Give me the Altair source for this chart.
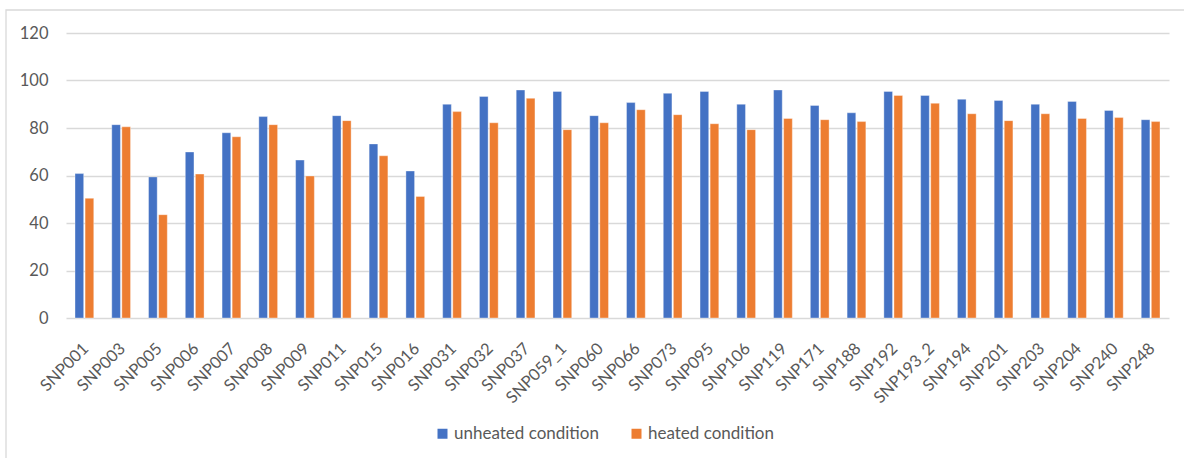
import altair as alt
import pandas as pd

# SNP markers and the percentage measured for each under both conditions
snps = [
    "SNP001", "SNP003", "SNP005", "SNP006", "SNP007", "SNP008", "SNP009",
    "SNP011", "SNP015", "SNP016", "SNP031", "SNP032", "SNP037", "SNP059_1",
    "SNP060", "SNP066", "SNP073", "SNP095", "SNP106", "SNP119", "SNP171",
    "SNP188", "SNP192", "SNP193_2", "SNP194", "SNP201", "SNP203", "SNP204",
    "SNP240", "SNP248",
]
unheated = [
    60.8, 81.4, 59.4, 69.9, 78.0, 84.8, 66.5, 85.2, 73.3, 61.9, 90.0, 93.3,
    96.0, 95.4, 85.2, 90.7, 94.6, 95.4, 90.0, 96.0, 89.5, 86.4, 95.4, 93.7,
    92.1, 91.6, 90.0, 91.2, 87.4, 83.5,
]
heated = [
    50.4, 80.5, 43.5, 60.6, 76.3, 81.4, 59.8, 83.1, 68.3, 51.2, 86.9, 82.2,
    92.5, 79.3, 82.2, 87.7, 85.6, 81.8, 79.3, 84.0, 83.5, 82.7, 93.7, 90.4,
    86.0, 83.1, 86.0, 84.0, 84.4, 82.7,
]
series = ["unheated condition", "heated condition"]
colors = ["#4472C4", "#ED7D31"]
y_ticks = [0, 20, 40, 60, 80, 100, 120]

rows = []
for snp, u, h in zip(snps, unheated, heated):
    rows.append({"snp": snp, "condition": series[0], "value": u})
    rows.append({"snp": snp, "condition": series[1], "value": h})
df = pd.DataFrame(rows)

FONT = "Lato"
TEXT = "#595959"
GRID = "#D9D9D9"

bars = alt.Chart(df).mark_bar(stroke="white", strokeWidth=0.6, strokeOpacity=0.6).encode(
    x=alt.X(
        "snp:N",
        sort=snps,
        title=None,
        scale=alt.Scale(paddingInner=0.49, paddingOuter=0.245),
        axis=alt.Axis(
            labelAngle=-45,
            labelAlign="right",
            labelBaseline="top",
            labelPadding=22,
            labelOffset=-4,
            ticks=False,
            domain=False,
            grid=False,
            labelFont=FONT,
            labelFontSize=16.5,
            labelColor=TEXT,
        ),
    ),
    xOffset=alt.XOffset(
        "condition:N", sort=series, scale=alt.Scale(paddingInner=0.14)
    ),
    y=alt.Y(
        "value:Q",
        title=None,
        scale=alt.Scale(domain=[0, 120], nice=False),
        axis=alt.Axis(
            values=y_ticks,
            ticks=False,
            domain=False,
            gridColor=GRID,
            gridWidth=1.3,
            labelPadding=18,
            labelFont=FONT,
            labelFontSize=16.5,
            labelColor=TEXT,
        ),
    ),
    color=alt.Color(
        "condition:N",
        sort=series,
        scale=alt.Scale(domain=series, range=colors),
        legend=alt.Legend(
            title=None,
            orient="none",
            direction="horizontal",
            legendX=368,
            legendY=392,
            padding=0,
            symbolType="square",
            symbolSize=100,
            symbolStrokeWidth=0,
            symbolOpacity=1,
            labelOffset=3,
            columnPadding=29,
            labelFont=FONT,
            labelFontSize=17,
            labelColor=TEXT,
        ),
    ),
)

# outer chart-area frame
frame = alt.Chart(pd.DataFrame({"f": [0]})).mark_rect(
    fill="transparent", stroke=GRID, strokeWidth=1.3
).encode(
    x=alt.value(-60), x2=alt.value(1200), y=alt.value(-23), y2=alt.value(520)
)

chart = (
    alt.layer(frame, bars)
    .properties(
        width=1103,
        height=285,
        autosize=alt.AutoSizeParams(type="none"),
        padding={"left": 66, "top": 33, "right": 15, "bottom": 140},
        background="white",
    )
    .configure_view(stroke=None)
)

chart.save("out.html", embed_options={"renderer": "svg", "actions": False})
